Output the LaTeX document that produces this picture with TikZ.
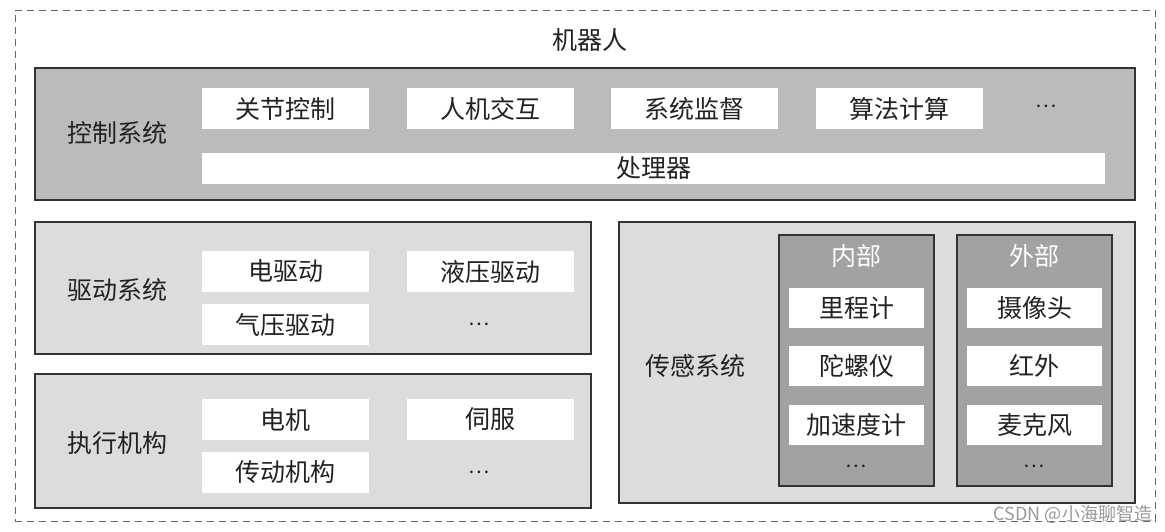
\documentclass[tikz,border=0pt]{standalone}
\usepackage{fontspec}
\newfontfamily\cjk{Noto Sans CJK SC}
\definecolor{ctrlgray}{HTML}{BCBABA}
\definecolor{lightgray}{HTML}{DCDCDC}
\definecolor{darkgray}{HTML}{A2A2A2}
\definecolor{edge}{HTML}{333333}
\definecolor{txt}{HTML}{222222}
\begin{document}
\begin{tikzpicture}[x=1pt,y=-1pt,
  every node/.style={font=\cjk\fontsize{25}{27}\selectfont, text=txt, inner sep=0pt, outer sep=0pt},
  panel/.style={draw=edge, line width=1.2pt, anchor=north west},
  wbox/.style={fill=white, anchor=north west, minimum width=167pt, minimum height=41pt},
  sbox/.style={fill=white, anchor=north west, minimum width=135pt, minimum height=40pt},
  dots/.style={font=\cjk\fontsize{20}{22}\selectfont}
]
\useasboundingbox (0,0) rectangle (1165,531);
% outer dashed
\node[draw=gray!80!black, line width=1pt, dash pattern=on 7pt off 5pt, anchor=north west, minimum width=1140pt, minimum height=511pt] (robot) at (15,10) {};
\node (title) at (590,40) {机器人};

% control system
\node[panel, fill=ctrlgray, minimum width=1100pt, minimum height=132pt] (ctrl) at (35,68) {};
\node (ctrlL) at (117,133) {控制系统};
\node[wbox] (c1) at (202,88) {关节控制};
\node[wbox] (c2) at (407,88) {人机交互};
\node[wbox] (c3) at (611,88) {系统监督};
\node[wbox] (c4) at (816,88) {算法计算};
\node[dots] (c5) at (1046,106) {…};
\node[wbox, minimum width=903pt, minimum height=31pt] (cpu) at (202,153) {处理器};

% drive system
\node[panel, fill=lightgray, minimum width=556pt, minimum height=132pt] (drv) at (35,222) {};
\node (drvL) at (117,290) {驱动系统};
\node[wbox] (d1) at (202,251) {电驱动};
\node[wbox] (d2) at (407,251) {液压驱动};
\node[wbox] (d3) at (202,304) {气压驱动};
\node[dots] (d4) at (479,324) {…};

% actuators
\node[panel, fill=lightgray, minimum width=556pt, minimum height=134pt] (act) at (35,374) {};
\node (actL) at (117,443) {执行机构};
\node[wbox] (a1) at (202,399) {电机};
\node[wbox] (a2) at (407,399) {伺服};
\node[wbox] (a3) at (202,452) {传动机构};
\node[dots] (a4) at (479,472) {…};

% sensing system
\node[panel, fill=lightgray, minimum width=516pt, minimum height=281pt] (sen) at (619,222) {};
\node (senL) at (695,366) {传感系统};
\node[panel, fill=darkgray, minimum width=155pt, minimum height=251pt] (inner) at (779,235) {};
\node[text=white] (innerT) at (856,256) {内部};
\node[sbox] (i1) at (789,288) {里程计};
\node[sbox] (i2) at (789,346) {陀螺仪};
\node[sbox] (i3) at (789,405) {加速度计};
\node[dots] (i4) at (856,466) {…};
\node[panel, fill=darkgray, minimum width=155pt, minimum height=251pt] (outer) at (957,235) {};
\node[text=white] (outerT) at (1034,256) {外部};
\node[sbox] (o1) at (967,288) {摄像头};
\node[sbox] (o2) at (967,346) {红外};
\node[sbox] (o3) at (967,405) {麦克风};
\node[dots] (o4) at (1034,466) {…};

% watermark
\node[font=\cjk\fontsize{18}{20}\selectfont, text=black!40, anchor=south east] (wm) at (1152,524) {CSDN @小海聊智造};
\end{tikzpicture}
\end{document}
